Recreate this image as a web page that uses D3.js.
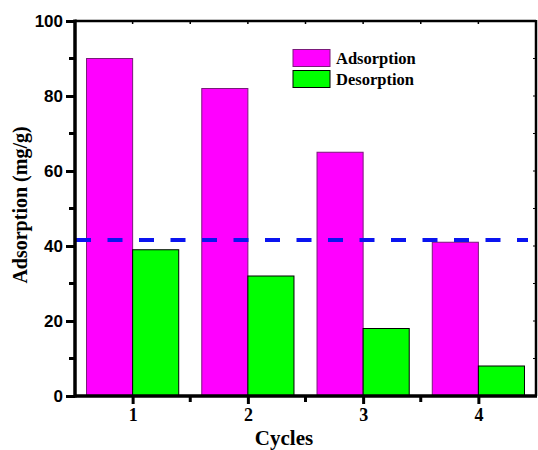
<!DOCTYPE html>
<html><head><meta charset="utf-8">
<script src="https://cdn.jsdelivr.net/npm/d3@7"></script>
<style>
body{margin:0;background:#fff}
.serif{font-family:"Liberation Serif","Times New Roman",Times,serif;font-weight:bold}
.sans{font-family:"Liberation Sans",Arial,Helvetica,sans-serif;font-weight:bold}
</style>
</head><body>
<svg id="c" width="538" height="450"></svg>
<script>
const categories = ["1", "2", "3", "4"];
const adsorption = [90, 82, 65, 41];
const desorption = [39, 32, 18, 8];
const seriesNames = ["Adsorption", "Desorption"];
const yTicks = [0, 20, 40, 60, 80, 100];
const refLine = 41.6;

const svg = d3.select("#c");
const L = 75, R = 536, T = 21, B = 396;
const x = d3.scaleLinear().domain([0.5, 4.5]).range([L, R]);
const y = d3.scaleLinear().domain([0, 100]).range([B, T]);
const bw = x(1) - x(0.6);

const g = svg.append("g");
categories.forEach((c, i) => {
  const cx = x(+c);
  g.append("rect").attr("x", cx - bw).attr("y", y(adsorption[i]))
    .attr("width", bw).attr("height", y(0) - y(adsorption[i]))
    .attr("fill", "#ff00ff").attr("stroke", "#7a1a7a").attr("stroke-width", 1);
  g.append("rect").attr("x", cx).attr("y", y(desorption[i]))
    .attr("width", bw).attr("height", y(0) - y(desorption[i]))
    .attr("fill", "#00ff00").attr("stroke", "#000").attr("stroke-width", 1);
});

// dashed line
svg.append("line").attr("x1", L + 1).attr("x2", R - 8)
  .attr("y1", y(refLine)).attr("y2", y(refLine))
  .attr("stroke", "#0a14f0").attr("stroke-width", 4)
  .attr("stroke-dasharray", "15,16.5");

// axes
const leftAxis = d3.axisLeft(y).tickValues(yTicks).tickSize(9).tickPadding(3);
const gl = svg.append("g").attr("transform", `translate(${L},0)`).call(leftAxis)
  .attr("font-family", null).attr("font-size", null);
gl.select(".domain").remove();
gl.selectAll(".tick line").attr("stroke", "#000").attr("stroke-width", 3);
gl.selectAll(".tick text").attr("x", -12).attr("class", "sans")
  .style("font-size", "17px").attr("fill", "#000");
// minor left ticks
[10, 30, 50, 70, 90].forEach(v => {
  svg.append("line").attr("x1", L - 6).attr("x2", L).attr("y1", y(v)).attr("y2", y(v))
    .attr("stroke", "#000").attr("stroke-width", 3);
});

const bottomAxis = d3.axisBottom(x).tickValues(categories.map(Number)).tickFormat(d => d).tickSize(8).tickPadding(4);
const gb = svg.append("g").attr("transform", `translate(0,${B})`).call(bottomAxis)
  .attr("font-family", null).attr("font-size", null);
gb.select(".domain").remove();
gb.selectAll(".tick line").attr("stroke", "#000").attr("stroke-width", 3);
gb.selectAll(".tick text").attr("class", "serif")
  .style("font-size", "18px").attr("fill", "#000");
[1.5, 2.5, 3.5].forEach(v => {
  svg.append("line").attr("x1", x(v)).attr("x2", x(v)).attr("y1", B).attr("y2", B + 6)
    .attr("stroke", "#000").attr("stroke-width", 3);
});

// top ticks inward
[1, 1.5, 2, 2.5, 3, 3.5, 4].forEach(v => {
  svg.append("line").attr("x1", x(v)).attr("x2", x(v)).attr("y1", T).attr("y2", T + 3)
    .attr("stroke", "#000").attr("stroke-width", 1.5);
});
// right ticks inward
[10, 20, 30, 40, 50, 60, 70, 80, 90].forEach(v => {
  svg.append("line").attr("x1", R - 3).attr("x2", R).attr("y1", y(v)).attr("y2", y(v))
    .attr("stroke", "#000").attr("stroke-width", 1);
});

// frame
svg.append("line").attr("x1", L).attr("x2", R).attr("y1", T).attr("y2", T).attr("stroke", "#000").attr("stroke-width", 2.5);
svg.append("line").attr("x1", R).attr("x2", R).attr("y1", T - 1).attr("y2", B).attr("stroke", "#000").attr("stroke-width", 2.5);
svg.append("line").attr("x1", L).attr("x2", R + 1).attr("y1", B).attr("y2", B).attr("stroke", "#000").attr("stroke-width", 3.5);
svg.append("line").attr("x1", L).attr("x2", L).attr("y1", T - 1.5).attr("y2", B + 1.5).attr("stroke", "#000").attr("stroke-width", 3.5);

// titles
svg.append("text").attr("x", 284).attr("y", 445).attr("text-anchor", "middle")
  .attr("class", "serif").style("font-size", "21px").text("Cycles");
svg.append("text").attr("transform", `translate(27,205) rotate(-90)`).attr("text-anchor", "middle")
  .attr("class", "serif").style("font-size", "20px").text("Adsorption (mg/g)");

// legend
const legColors = ["#ff00ff", "#00ff00"];
const legStroke = ["#7a1a7a", "#000"];
seriesNames.forEach((n, i) => {
  const ly = 49.5 + i * 21;
  svg.append("rect").attr("x", 293).attr("y", ly).attr("width", 37).attr("height", 17)
    .attr("fill", legColors[i]).attr("stroke", legStroke[i]).attr("stroke-width", 1);
  svg.append("text").attr("x", 336).attr("y", ly + 14.5)
    .attr("class", "serif").style("font-size", "16.5px").text(n);
});
</script>
</body></html>
